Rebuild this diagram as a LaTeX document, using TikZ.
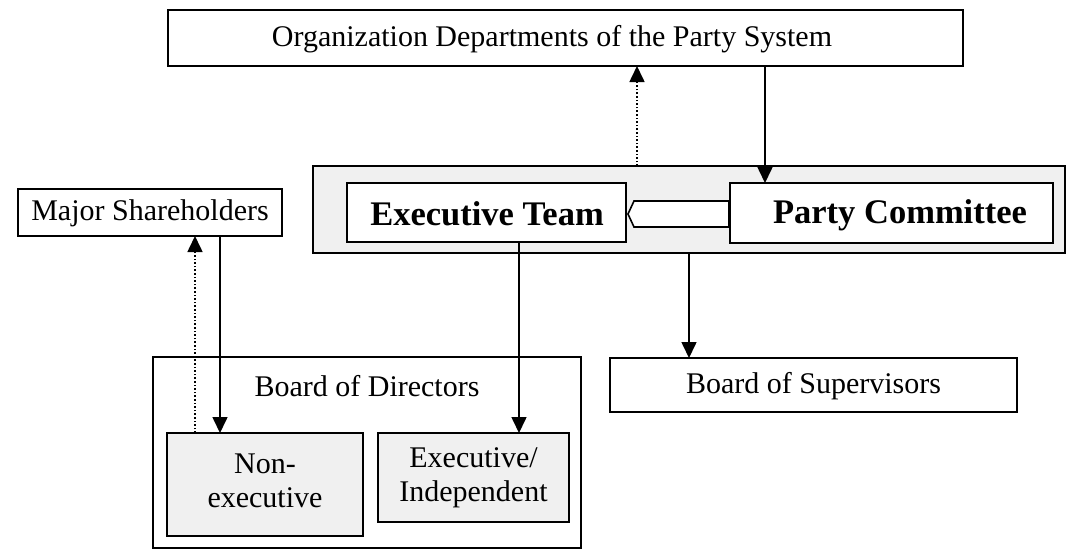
\documentclass[tikz,border=0pt]{standalone}
\usepackage{fontspec}
\setmainfont{Liberation Serif}
\usetikzlibrary{arrows.meta}
\begin{document}
\begin{tikzpicture}[x=1pt,y=-1pt,
  box/.style={draw=black,line width=1.6pt,fill=white},
  greybox/.style={draw=black,line width=1.6pt,fill=black!6},
  lbl/.style={font=\fontsize{30}{34}\selectfont,align=center,inner sep=0pt},
  blbl/.style={font=\fontsize{34.5}{38}\selectfont\bfseries,inner sep=0pt},
  conn/.style={line width=1.6pt,-{Triangle[length=16pt,width=15pt]}},
  dconn/.style={line width=1.6pt,dotted,-{Triangle[length=16pt,width=15pt]}}]
\useasboundingbox (0,0) rectangle (1066,550);
% boxes
\draw[box] (168,10) rectangle (963,66);
\node[lbl] (org) at (552,39) {Organization Departments of the Party System};
\draw[greybox] (313,166) rectangle (1065,253);
\draw[box] (347,183) rectangle (626,242);
\node[blbl] (exec) at (487,214) {Executive Team};
\draw[box] (730,183) rectangle (1053,243);
\node[blbl] (party) at (900,215) {Party Committee};
\draw[line width=1.6pt,fill=white] (628,214) -- (634,201) -- (729,201) -- (729,227) -- (634,227) -- cycle;
\draw[box] (18,189) rectangle (282,236);
\node[lbl] (major) at (150,213) {Major Shareholders};
\draw[box] (153,357) rectangle (581,548);
\node[lbl] (bod) at (367,386) {Board of Directors};
\draw[greybox] (167,433) rectangle (363,536);
\node[lbl] (nonex) at (265,481) {Non-\\executive};
\draw[greybox] (378,433) rectangle (569,522);
\node[lbl] (exind) at (473.5,478) {Executive/\\Independent};
\draw[box] (610,358) rectangle (1017,412);
\node[lbl] (bos) at (813.5,386) {Board of Supervisors};
% connector coordinates
\coordinate (a1) at (637,166); \coordinate (a2) at (637,66);
\coordinate (b1) at (765,66); \coordinate (b2) at (765,183);
\coordinate (c1) at (195,433); \coordinate (c2) at (195,236);
\coordinate (d1) at (220,236); \coordinate (d2) at (220,433);
\coordinate (e1) at (519,242); \coordinate (e2) at (519,433);
\coordinate (f1) at (689,253); \coordinate (f2) at (689,358);
\draw[dconn] (a1) -- (a2);
\draw[conn] (b1) -- (b2);
\draw[dconn] (c1) -- (c2);
\draw[conn] (d1) -- (d2);
\draw[conn] (e1) -- (e2);
\draw[conn] (f1) -- (f2);
\end{tikzpicture}
\end{document}
